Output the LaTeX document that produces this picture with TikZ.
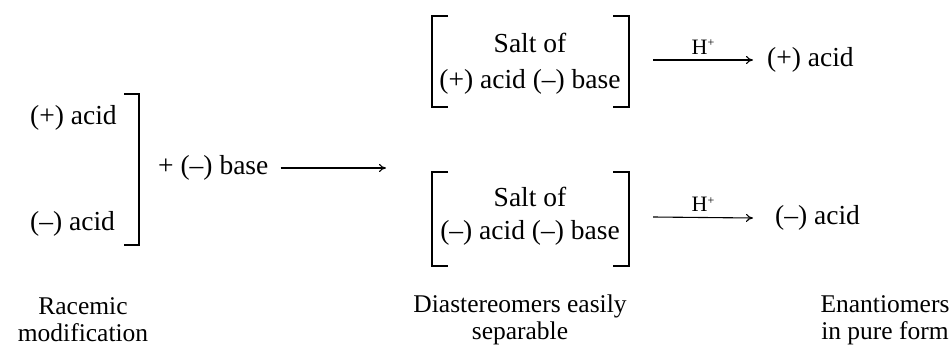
\documentclass[tikz,border=0pt]{standalone}
\usepackage{fontspec}
\setmainfont{Liberation Serif}
\usetikzlibrary{arrows.meta}
\begin{document}
\begin{tikzpicture}[x=1pt,y=-1pt,
  txt/.style={inner sep=0pt,font=\fontsize{27.5}{32}\selectfont},
  lbl/.style={inner sep=0pt,align=center,font=\fontsize{25.5}{27}\selectfont},
  hlab/.style={inner sep=0pt,font=\fontsize{22}{24}\selectfont},
  brk/.style={line width=1.6pt},
  rxn/.style={line width=1.1pt,-{To[length=7pt,width=8pt]}}]
\useasboundingbox (0,0) rectangle (952,358);
% left side
\node[txt,anchor=west] (pacid) at (30,118) {(+) acid};
\node[txt,anchor=west] (macid) at (30,224) {(–) acid};
\draw[brk] (124,94) -- (139,94) -- (139,245) -- (124,245);
\node[txt,anchor=west] (base) at (158,168) {+ (–) base};
\coordinate (mid) at (386,168);
\draw[rxn] ([xshift=12pt]base.east) -- (mid);
% top salt
\draw[brk] (448,16) -- (432,16) -- (432,107) -- (448,107);
\draw[brk] (613,16) -- (629,16) -- (629,107) -- (613,107);
\node[txt] (salt1a) at (530,43) {Salt of};
\node[txt] (salt1b) at (530,82) {(+) acid (–) base};
\coordinate (s1r) at (653,60);
\node[txt,anchor=west] (prod1) at (767,60) {(+) acid};
\draw[rxn] (s1r) -- ([xshift=-14pt]prod1.west) node[midway,above=5pt,hlab] (h1) {H\raisebox{0.75ex}{\fontsize{12}{12}\selectfont +}};
% bottom salt
\draw[brk] (448,172) -- (432,172) -- (432,266) -- (448,266);
\draw[brk] (613,172) -- (629,172) -- (629,266) -- (613,266);
\node[txt] (salt2a) at (530,197) {Salt of};
\node[txt] (salt2b) at (530,233) {(–) acid (–) base};
\coordinate (s2r) at (653,217);
\node[txt,anchor=west] (prod2) at (775,218) {(–) acid};
\draw[rxn] (s2r) -- ([xshift=-22pt]prod2.west) node[midway,above=5pt,hlab] (h2) {H\raisebox{0.75ex}{\fontsize{12}{12}\selectfont +}};
% bottom labels
\node[lbl] (l1) at (83,320) {Racemic\\modification};
\node[lbl] (l2) at (520,320) {Diastereomers easily\\separable};
\node[lbl] (l3) at (885,320) {Enantiomers\\in pure form};
\end{tikzpicture}
\end{document}
